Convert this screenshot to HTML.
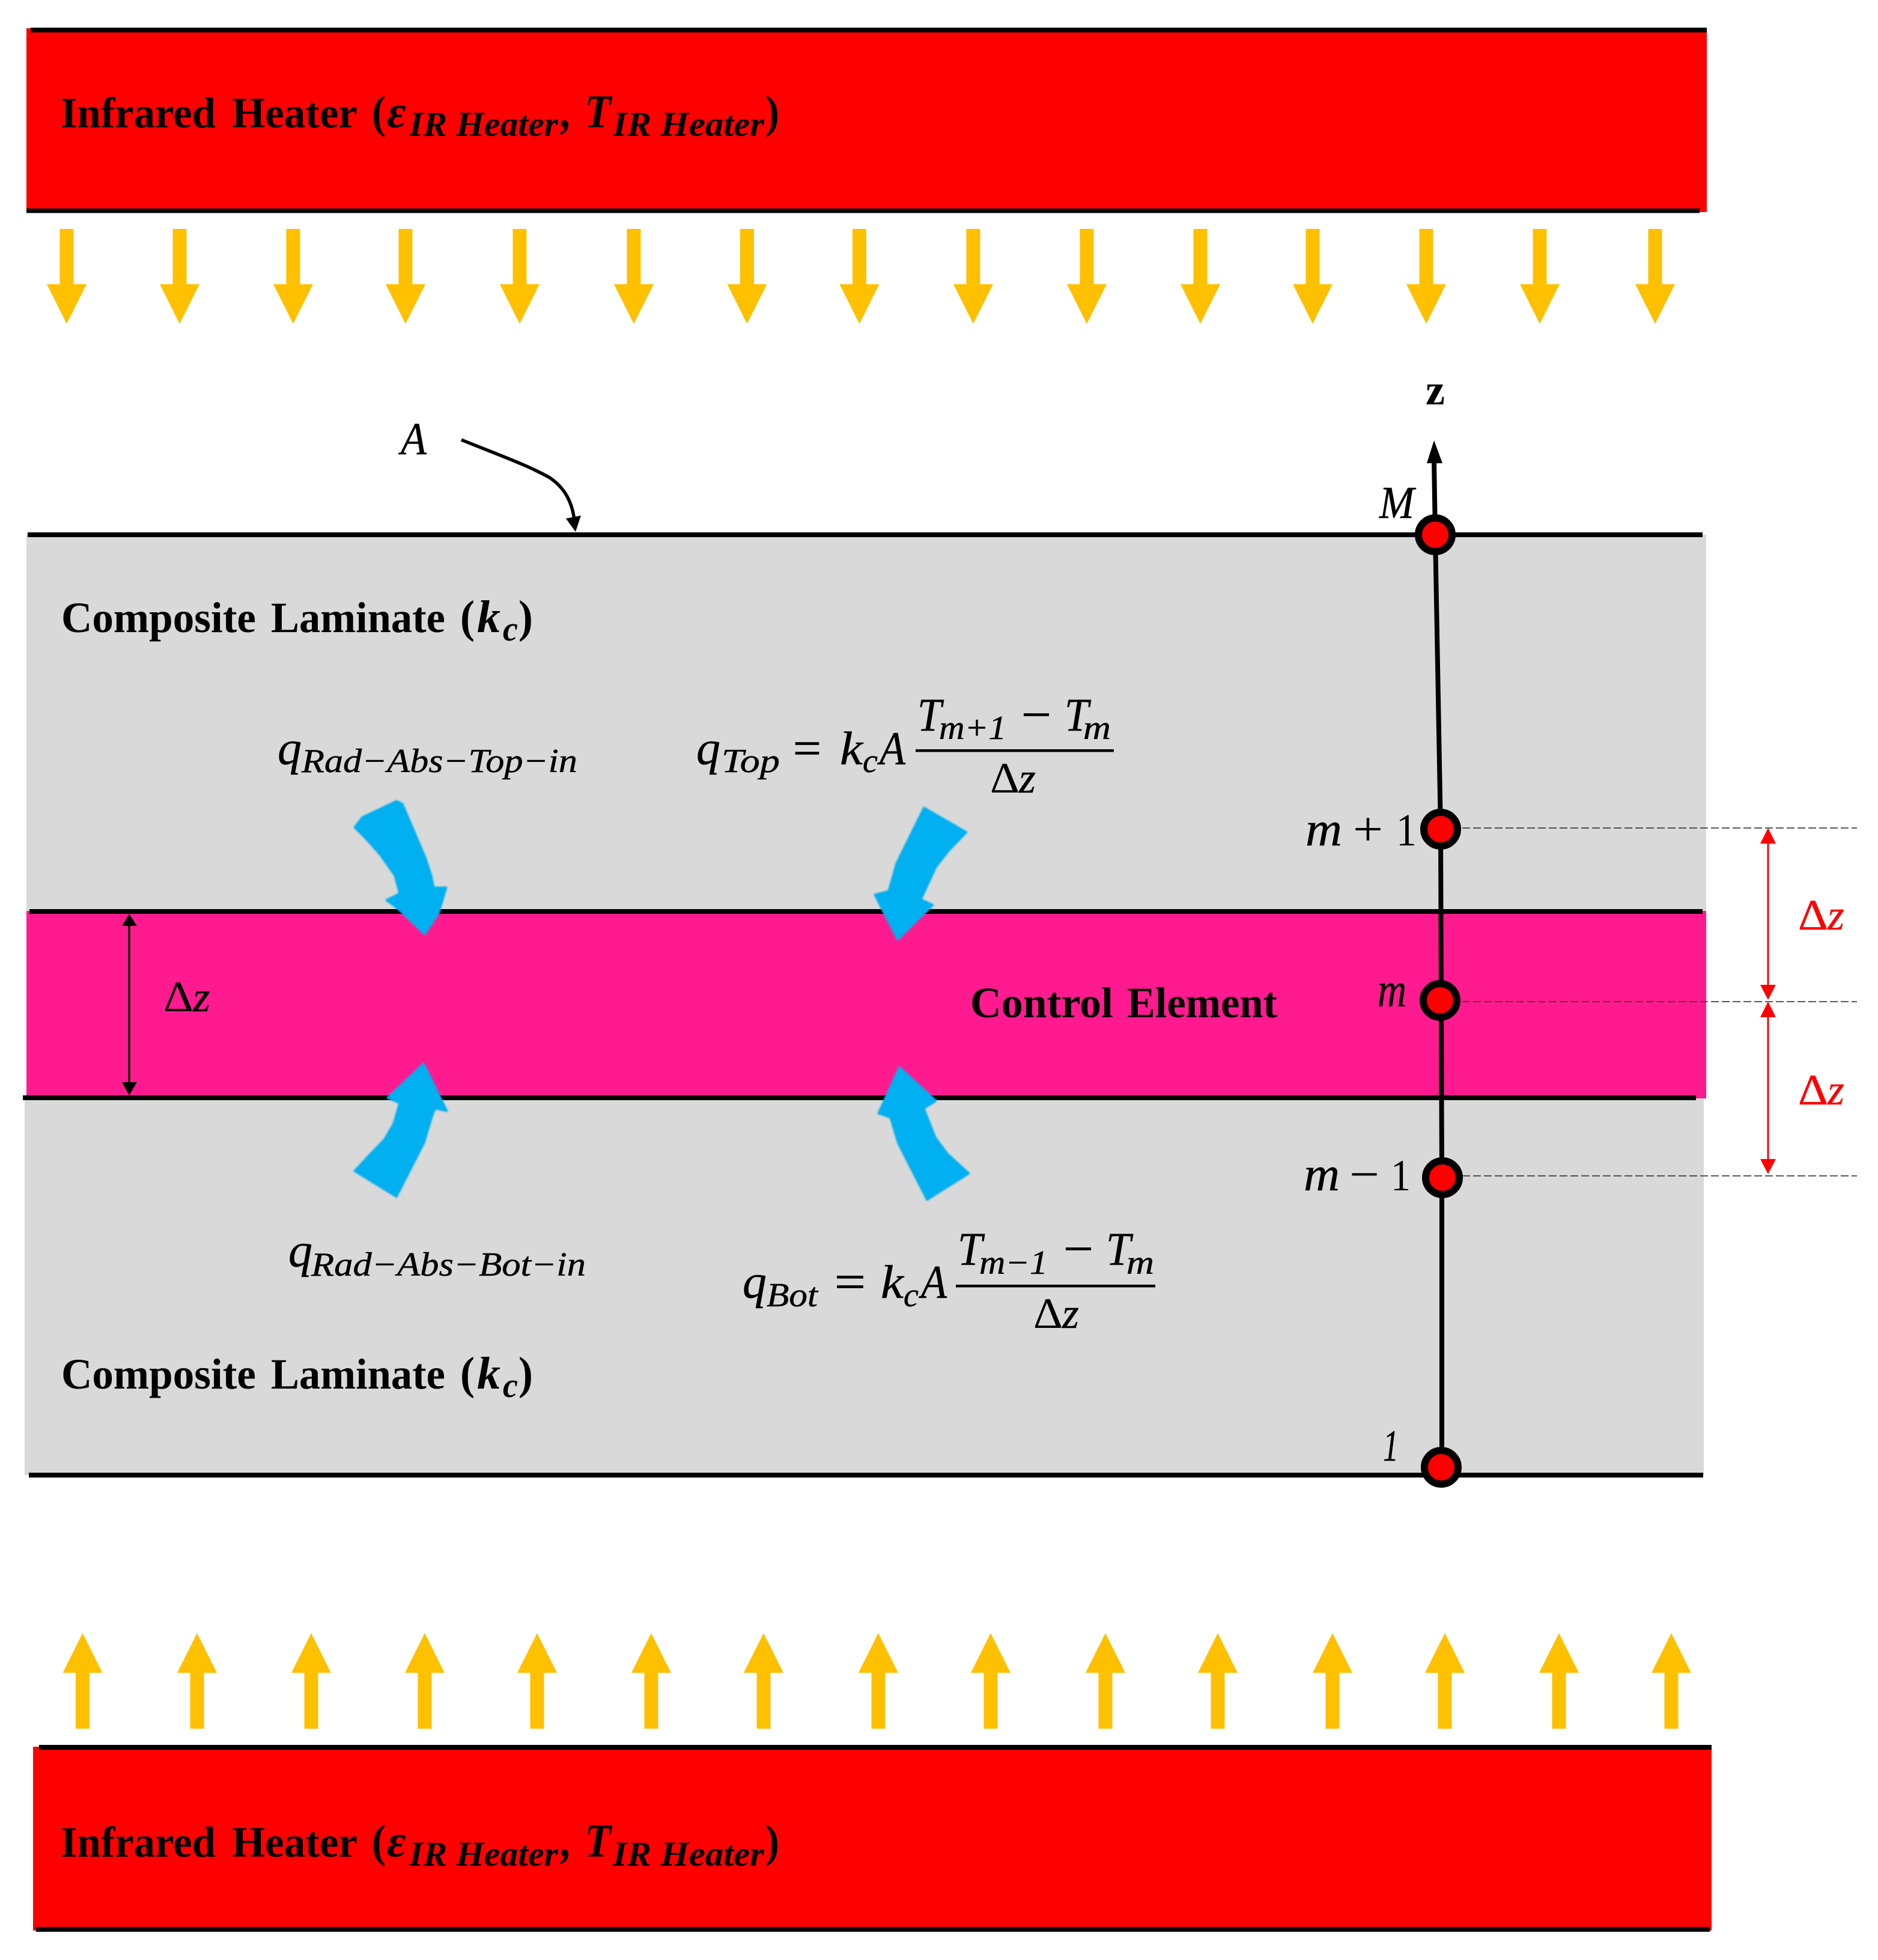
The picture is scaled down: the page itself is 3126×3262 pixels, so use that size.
<!DOCTYPE html>
<html><head><meta charset="utf-8"><style>
html,body{margin:0;padding:0;background:#fff}
svg{display:block}
text{font-family:"Liberation Serif",serif;fill:#000}
.i{font-style:italic;stroke:#000;stroke-width:.5}.b{font-weight:bold}.bi{font-weight:bold;font-style:italic}
.r{fill:#f00;stroke:#f00;stroke-width:.4}
.s{stroke:#000;stroke-width:.8}
</style></head><body>
<svg xmlns="http://www.w3.org/2000/svg" width="3126" height="3262" viewBox="0 0 3126 3262">
<defs><filter id="bl" x="-10%" y="-10%" width="120%" height="120%"><feGaussianBlur stdDeviation="1.3"/></filter></defs>
<rect width="3126" height="3262" fill="#fff"/>
<!-- bands -->
<rect x="44" y="47" width="2797" height="306" fill="#f00"/>
<rect x="55" y="2907" width="2794" height="306" fill="#f00"/>
<rect x="44" y="890" width="2796" height="630" fill="#d9d9d9"/>
<rect x="41" y="1828" width="2795" height="627" fill="#d9d9d9"/>
<rect x="44" y="1516" width="2796" height="312" fill="#ff1a8f"/>
<!-- black bars -->
<g fill="#000">
<rect x="51" y="46" width="2790" height="8"/>
<rect x="44" y="347" width="2785" height="7.5"/>
<rect x="46" y="886" width="2788" height="8"/>
<rect x="49" y="1513" width="2785" height="8"/>
<rect x="38" y="1823" width="2785" height="8"/>
<rect x="48" y="2451" width="2787" height="8"/>
<rect x="65" y="2904" width="2784" height="8"/>
<rect x="60" y="3207" width="2786" height="8"/>
</g>
<!-- yellow arrows -->
<path fill="#ffc000" d="M99.5 381h23v92h21.5l-33 66l-33-66h21.5zM287.5 381h23v92h21.5l-33 66l-33-66h21.5zM476.5 381h23v92h21.5l-33 66l-33-66h21.5zM663.5 381h23v92h21.5l-33 66l-33-66h21.5zM853.5 381h23v92h21.5l-33 66l-33-66h21.5zM1043.5 381h23v92h21.5l-33 66l-33-66h21.5zM1232 381h23v92h21.5l-33 66l-33-66h21.5zM1419 381h23v92h21.5l-33 66l-33-66h21.5zM1608.5 381h23v92h21.5l-33 66l-33-66h21.5zM1797.5 381h23v92h21.5l-33 66l-33-66h21.5zM1986.5 381h23v92h21.5l-33 66l-33-66h21.5zM2173.5 381h23v92h21.5l-33 66l-33-66h21.5zM2362.5 381h23v92h21.5l-33 66l-33-66h21.5zM2551.5 381h23v92h21.5l-33 66l-33-66h21.5zM2743.5 381h23v92h21.5l-33 66l-33-66h21.5z"/>
<path fill="#ffc000" d="M126 2877h23v-93h21.5l-33-66l-33 66h21.5zM316.5 2877h23v-93h21.5l-33-66l-33 66h21.5zM506.5 2877h23v-93h21.5l-33-66l-33 66h21.5zM695.5 2877h23v-93h21.5l-33-66l-33 66h21.5zM882.5 2877h23v-93h21.5l-33-66l-33 66h21.5zM1072.5 2877h23v-93h21.5l-33-66l-33 66h21.5zM1259.5 2877h23v-93h21.5l-33-66l-33 66h21.5zM1450.5 2877h23v-93h21.5l-33-66l-33 66h21.5zM1637.5 2877h23v-93h21.5l-33-66l-33 66h21.5zM1828.5 2877h23v-93h21.5l-33-66l-33 66h21.5zM2015.5 2877h23v-93h21.5l-33-66l-33 66h21.5zM2206.5 2877h23v-93h21.5l-33-66l-33 66h21.5zM2393.5 2877h23v-93h21.5l-33-66l-33 66h21.5zM2583.5 2877h23v-93h21.5l-33-66l-33 66h21.5zM2770.5 2877h23v-93h21.5l-33-66l-33 66h21.5z"/>
<!-- blue arrows -->
<g fill="#00b0f0" stroke="#00b0f0" stroke-width="3" stroke-linejoin="round" filter="url(#bl)">
<polygon points="660,1333 670,1338 708,1427 718,1457 722,1477 743,1477 730,1520 707,1555 663,1513 643,1498 665,1487 657,1457 633,1423 610,1397 590,1377 603,1360"/>
<polygon points="1538,1344 1609,1385 1580,1415 1558,1443 1533,1497 1553,1506 1494,1564 1456,1489 1479,1483 1492,1437"/>
<polygon points="705,1770 744,1849 724,1845 718,1862 706,1902 660,1992 590,1949 612,1925 640,1896 655,1870 665,1836 645,1827"/>
<polygon points="1497,1776 1558,1832 1538,1845 1557,1893 1577,1920 1613,1953 1543,1997 1495,1903 1482,1860 1462,1853"/>
</g>
<!-- A arrow -->
<path d="M768 732C830 757 880 775 915 795C940 812 952 835 956 865" fill="none" stroke="#000" stroke-width="5.5"/>
<polygon points="958,885 942,863 967,858" fill="#000"/>
<!-- left dz arrow -->
<line x1="215" y1="1535" x2="215" y2="1805" stroke="#000" stroke-width="3.5"/>
<polygon points="215,1521 203,1541 228,1541" fill="#000"/>
<polygon points="215,1823 203,1801 228,1801" fill="#000"/>
<!-- z axis -->
<path d="M2387 765L2389 890L2398 1380L2399 1665L2400 1960L2400 2442" fill="none" stroke="#000" stroke-width="8"/>
<polygon points="2387,733 2375,771 2401,771" fill="#000"/>
<g fill="#f00" stroke="#000" stroke-width="12">
<circle cx="2389" cy="890" r="28"/>
<circle cx="2398" cy="1380" r="28"/>
<circle cx="2397" cy="1665" r="28"/>
<circle cx="2401" cy="1960" r="28"/>
<circle cx="2399" cy="2442" r="28"/>
</g>
<!-- dashes -->
<g stroke="#222" stroke-width="1.6" stroke-dasharray="13 5">
<line x1="2434" y1="1378" x2="3091" y2="1378"/>
<line x1="2434" y1="1667" x2="3091" y2="1667"/>
<line x1="2434" y1="1957" x2="3091" y2="1957"/>
</g>
<!-- red dims -->
<g stroke="#f00" stroke-width="3"><line x1="2943" y1="1400" x2="2943" y2="1642"/><line x1="2943" y1="1690" x2="2943" y2="1932"/></g>
<g fill="#f00">
<polygon points="2943,1378 2930,1404 2956,1404"/>
<polygon points="2943,1664 2930,1639 2956,1639"/>
<polygon points="2943,1667 2930,1693 2956,1693"/>
<polygon points="2943,1954 2930,1929 2956,1929"/>
</g>
<!-- heater labels -->
<g font-size="72">
<text class="b" x="101" y="212" textLength="258" lengthAdjust="spacingAndGlyphs">Infrared</text>
<text class="b" x="386" y="212" textLength="209" lengthAdjust="spacingAndGlyphs">Heater</text>
<text class="b" x="619" y="212" font-size="76" textLength="23" lengthAdjust="spacingAndGlyphs">(</text>
<text class="bi" x="644" y="212" font-size="76" textLength="32" lengthAdjust="spacingAndGlyphs">ε</text>
<text class="bi" x="681" y="226" font-size="58" textLength="248" lengthAdjust="spacingAndGlyphs">IR Heater</text>
<text class="bi" x="934" y="212" font-size="80" textLength="18" lengthAdjust="spacingAndGlyphs">,</text>
<text class="bi" x="973" y="212" font-size="78" textLength="44" lengthAdjust="spacingAndGlyphs">T</text>
<text class="bi" x="1020" y="226" font-size="58" textLength="252" lengthAdjust="spacingAndGlyphs">IR Heater</text>
<text class="b" x="1274" y="212" font-size="76" textLength="23" lengthAdjust="spacingAndGlyphs">)</text>

<text class="b" x="101" y="3090" textLength="258" lengthAdjust="spacingAndGlyphs">Infrared</text>
<text class="b" x="386" y="3090" textLength="209" lengthAdjust="spacingAndGlyphs">Heater</text>
<text class="b" x="619" y="3090" font-size="76" textLength="23" lengthAdjust="spacingAndGlyphs">(</text>
<text class="bi" x="644" y="3090" font-size="76" textLength="32" lengthAdjust="spacingAndGlyphs">ε</text>
<text class="bi" x="681" y="3105" font-size="58" textLength="248" lengthAdjust="spacingAndGlyphs">IR Heater</text>
<text class="bi" x="934" y="3090" font-size="80" textLength="18" lengthAdjust="spacingAndGlyphs">,</text>
<text class="bi" x="973" y="3090" font-size="78" textLength="44" lengthAdjust="spacingAndGlyphs">T</text>
<text class="bi" x="1020" y="3105" font-size="58" textLength="252" lengthAdjust="spacingAndGlyphs">IR Heater</text>
<text class="b" x="1274" y="3090" font-size="76" textLength="23" lengthAdjust="spacingAndGlyphs">)</text>

<!-- composite -->
<text class="b" x="102" y="1052" textLength="324" lengthAdjust="spacingAndGlyphs">Composite</text>
<text class="b" x="451" y="1052" textLength="290" lengthAdjust="spacingAndGlyphs">Laminate</text>
<text class="b" x="766" y="1052" font-size="76" textLength="24" lengthAdjust="spacingAndGlyphs">(</text>
<text class="bi" x="794" y="1052" font-size="76" textLength="39" lengthAdjust="spacingAndGlyphs">k</text>
<text class="bi" x="837" y="1066" font-size="58" textLength="25" lengthAdjust="spacingAndGlyphs">c</text>
<text class="b" x="863" y="1052" font-size="76" textLength="24" lengthAdjust="spacingAndGlyphs">)</text>

<text class="b" x="102" y="2311" textLength="324" lengthAdjust="spacingAndGlyphs">Composite</text>
<text class="b" x="451" y="2311" textLength="290" lengthAdjust="spacingAndGlyphs">Laminate</text>
<text class="b" x="766" y="2311" font-size="76" textLength="24" lengthAdjust="spacingAndGlyphs">(</text>
<text class="bi" x="794" y="2311" font-size="76" textLength="39" lengthAdjust="spacingAndGlyphs">k</text>
<text class="bi" x="837" y="2325" font-size="58" textLength="25" lengthAdjust="spacingAndGlyphs">c</text>
<text class="b" x="863" y="2311" font-size="76" textLength="24" lengthAdjust="spacingAndGlyphs">)</text>

<text class="b" x="1615" y="1693" textLength="238" lengthAdjust="spacingAndGlyphs">Control</text>
<text class="b" x="1876" y="1693" textLength="250" lengthAdjust="spacingAndGlyphs">Element</text>
<text class="b" x="2373" y="673" textLength="32" lengthAdjust="spacingAndGlyphs">z</text>

<!-- left dz -->
<text x="272" y="1683" textLength="50" lengthAdjust="spacingAndGlyphs">Δ</text>
<text class="i" x="321" y="1683" textLength="29" lengthAdjust="spacingAndGlyphs">z</text>
<!-- red dz -->
<text class="r" x="2993" y="1547" textLength="50" lengthAdjust="spacingAndGlyphs">Δ</text>
<text class="r i" x="3042" y="1547" textLength="28" lengthAdjust="spacingAndGlyphs" style="stroke:#f00">z</text>
<text class="r" x="2993" y="1838" textLength="50" lengthAdjust="spacingAndGlyphs">Δ</text>
<text class="r i" x="3042" y="1838" textLength="28" lengthAdjust="spacingAndGlyphs" style="stroke:#f00">z</text>

<!-- node labels -->
<text class="i" x="667" y="756" font-size="76" textLength="43" lengthAdjust="spacingAndGlyphs">A</text>
<text class="i" x="2296" y="862" font-size="76" textLength="58" lengthAdjust="spacingAndGlyphs">M</text>
<text class="i" x="2173" y="1407" font-size="80" textLength="61" lengthAdjust="spacingAndGlyphs">m</text>
<text x="2252" y="1407" font-size="80" textLength="50" lengthAdjust="spacingAndGlyphs">+</text>
<text x="2324" y="1407" font-size="76" textLength="34" lengthAdjust="spacingAndGlyphs">1</text>
<text class="i" x="2293" y="1675" font-size="82" textLength="48" lengthAdjust="spacingAndGlyphs">m</text>
<text class="i" x="2170" y="1981" font-size="80" textLength="60" lengthAdjust="spacingAndGlyphs">m</text>
<text x="2246" y="1981" font-size="80" textLength="50" lengthAdjust="spacingAndGlyphs">−</text>
<text x="2315" y="1981" font-size="74" textLength="33" lengthAdjust="spacingAndGlyphs">1</text>
<text class="i" x="2302" y="2431" font-size="74" textLength="26" lengthAdjust="spacingAndGlyphs">1</text>

<!-- q Rad Top -->
<text class="i" x="462" y="1272" font-size="80" textLength="40" lengthAdjust="spacingAndGlyphs">q</text>
<text class="i" x="502" y="1285" font-size="56" textLength="459" lengthAdjust="spacingAndGlyphs">Rad−Abs−Top−in</text>
<!-- q Top eq -->
<text class="i" x="1159" y="1272" font-size="80" textLength="40" lengthAdjust="spacingAndGlyphs">q</text>
<text class="i" x="1201" y="1285" font-size="56" textLength="97" lengthAdjust="spacingAndGlyphs">Top</text>
<text class="s" x="1320" y="1272" font-size="80" textLength="47" lengthAdjust="spacingAndGlyphs">=</text>
<text class="i" x="1398" y="1272" font-size="78" textLength="38" lengthAdjust="spacingAndGlyphs">k</text>
<text class="i" x="1436" y="1285" font-size="56" textLength="25" lengthAdjust="spacingAndGlyphs">c</text>
<text class="i" x="1464" y="1272" font-size="78" textLength="43" lengthAdjust="spacingAndGlyphs">A</text>
<rect x="1524" y="1247" width="330" height="4.5"/>
<text class="i" x="1527" y="1216" font-size="78" textLength="40" lengthAdjust="spacingAndGlyphs">T</text>
<text class="i" x="1563" y="1230" font-size="56" textLength="112" lengthAdjust="spacingAndGlyphs">m+1</text>
<text class="s" x="1700" y="1216" font-size="80" textLength="50" lengthAdjust="spacingAndGlyphs">−</text>
<text class="i" x="1772" y="1216" font-size="78" textLength="40" lengthAdjust="spacingAndGlyphs">T</text>
<text class="i" x="1803" y="1230" font-size="56" textLength="46" lengthAdjust="spacingAndGlyphs">m</text>
<text x="1648" y="1319" textLength="49" lengthAdjust="spacingAndGlyphs">Δ</text>
<text class="i" x="1696" y="1319" textLength="28" lengthAdjust="spacingAndGlyphs">z</text>

<!-- q Rad Bot -->
<text class="i" x="480" y="2108" font-size="80" textLength="40" lengthAdjust="spacingAndGlyphs">q</text>
<text class="i" x="518" y="2123" font-size="56" textLength="457" lengthAdjust="spacingAndGlyphs">Rad−Abs−Bot−in</text>
<!-- q Bot eq -->
<text class="i" x="1236" y="2160" font-size="80" textLength="40" lengthAdjust="spacingAndGlyphs">q</text>
<text class="i" x="1276" y="2174" font-size="56" textLength="85" lengthAdjust="spacingAndGlyphs">Bot</text>
<text class="s" x="1389" y="2160" font-size="80" textLength="52" lengthAdjust="spacingAndGlyphs">=</text>
<text class="i" x="1466" y="2160" font-size="78" textLength="38" lengthAdjust="spacingAndGlyphs">k</text>
<text class="i" x="1504" y="2174" font-size="56" textLength="25" lengthAdjust="spacingAndGlyphs">c</text>
<text class="i" x="1533" y="2160" font-size="78" textLength="43" lengthAdjust="spacingAndGlyphs">A</text>
<rect x="1591" y="2138" width="332" height="4.5"/>
<text class="i" x="1594" y="2105" font-size="78" textLength="41" lengthAdjust="spacingAndGlyphs">T</text>
<text class="i" x="1630" y="2120" font-size="56" textLength="114" lengthAdjust="spacingAndGlyphs">m−1</text>
<text class="s" x="1770" y="2105" font-size="80" textLength="50" lengthAdjust="spacingAndGlyphs">−</text>
<text class="i" x="1841" y="2105" font-size="78" textLength="41" lengthAdjust="spacingAndGlyphs">T</text>
<text class="i" x="1875" y="2120" font-size="56" textLength="46" lengthAdjust="spacingAndGlyphs">m</text>
<text x="1720" y="2210" textLength="49" lengthAdjust="spacingAndGlyphs">Δ</text>
<text class="i" x="1768" y="2210" textLength="28" lengthAdjust="spacingAndGlyphs">z</text>
</g>
</svg>
</body></html>
